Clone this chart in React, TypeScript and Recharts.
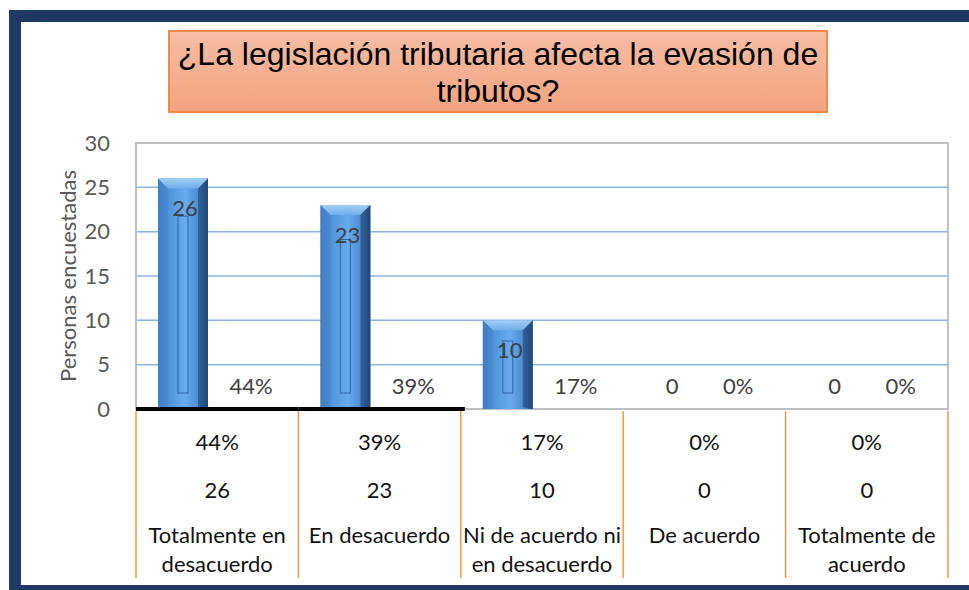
import React from "react";
import {
  BarChart,
  Bar,
  XAxis,
  YAxis,
  CartesianGrid,
  LabelList,
  ReferenceArea,
} from "recharts";

const categorias = [
  "Totalmente en desacuerdo",
  "En desacuerdo",
  "Ni de acuerdo ni en desacuerdo",
  "De acuerdo",
  "Totalmente de acuerdo",
];
const personas = [26, 23, 10, 0, 0];
const porcentajes = [0.44, 0.39, 0.17, 0, 0];
const ticksY = [0, 5, 10, 15, 20, 25, 30];

const titulo = ["¿La legislación tributaria afecta la evasión de", "tributos?"];
const tituloEjeY = "Personas encuestadas";

const datos = categorias.map((c, i) => ({
  categoria: c,
  personas: personas[i],
  porcentaje: porcentajes[i],
}));

const W = 969;
const H = 590;
const margen = { top: 143, right: 21, bottom: 11, left: 86 };
const anchoEjeY = 50;
const altoEjeX = 170;
const anchoPlot = W - margen.left - anchoEjeY - margen.right;
const banda = anchoPlot / categorias.length;
const anchoBarra = 50;
const huecoBarras = 18;

const fuente = "Lato, 'Open Sans', sans-serif";
const tam = 22;

function partir(texto: string, max = 16) {
  const palabras = texto.split(" ");
  const lineas: string[] = [];
  let actual = "";
  palabras.forEach((p) => {
    const prueba = actual ? actual + " " + p : p;
    if (prueba.length > max && actual) {
      lineas.push(actual);
      actual = p;
    } else {
      actual = prueba;
    }
  });
  if (actual) lineas.push(actual);
  return lineas;
}

function BarraBisel(props: any) {
  const { x, y, width, height } = props;
  if (!height || height <= 0) return null;
  const b = Math.min(10, height / 3);
  const inY = y + b + height * 0.12;
  const inH = Math.max(0, y + height - 16 - inY);
  return (
    <g>
      <rect x={x} y={y} width={width} height={height} fill="url(#gradBarra)" />
      <polygon
        points={`${x},${y} ${x + width},${y} ${x + width - b},${y + b} ${x + b},${y + b}`}
        fill="url(#gradTapa)"
      />
      <polygon
        points={`${x},${y} ${x + b},${y + b} ${x + b},${y + height - 2} ${x},${y + height}`}
        fill="#4784c8"
        opacity={0.5}
      />
      <polygon
        points={`${x + width},${y} ${x + width - b},${y + b} ${x + width - b},${y + height - 2} ${x + width},${y + height}`}
        fill="#1b3f6b"
        opacity={0.55}
      />
      {inH > 0 && (
        <rect
          x={x + width / 2 - 5}
          y={inY}
          width={10}
          height={inH}
          fill="none"
          stroke="#2f67a6"
          strokeWidth={1}
        />
      )}
    </g>
  );
}

function EtiquetaPersonas(props: any) {
  const { x, y, width, height, value } = props;
  const base = y + height;
  const ty = value > 0 ? y + 29 : base - 24;
  return (
    <text
      x={x + width / 2 + 2}
      y={ty}
      textAnchor="middle"
      dominantBaseline="central"
      fontFamily={fuente}
      fontSize={tam}
      fill="#404040"
    >
      {value}
    </text>
  );
}

// etiqueta del porcentaje, junto a la barra de personas
function EtiquetaPorcentaje(props: any) {
  const { x, y, width, height, value } = props;
  return (
    <text
      x={x + width + huecoBarras + anchoBarra / 2}
      y={y + height - 24}
      textAnchor="middle"
      dominantBaseline="central"
      fontFamily={fuente}
      fontSize={tam}
      fill="#404040"
    >
      {Math.round(value * 100)}%
    </text>
  );
}

function TickTabla(props: any) {
  const { x, y, payload } = props;
  const i = payload.index;
  const lineas = partir(categorias[i]);
  const izq = x - banda / 2;
  const der = x + banda / 2;
  const estilo = {
    textAnchor: "middle" as const,
    dominantBaseline: "central" as const,
    fontFamily: fuente,
    fontSize: tam,
    fill: "#111",
  };
  return (
    <g>
      <line x1={izq} x2={izq} y1={y + 2} y2={y + 169} stroke="#f79646" strokeWidth={1.5} />
      {i === categorias.length - 1 && (
        <line x1={der} x2={der} y1={y + 2} y2={y + 169} stroke="#f79646" strokeWidth={1.5} />
      )}
      {i < 2 && (
        <line x1={izq} x2={i === 1 ? der + 4 : der} y1={y} y2={y} stroke="#000" strokeWidth={4} />
      )}
      <text x={x} y={y + 32} {...estilo}>
        {Math.round(porcentajes[i] * 100)}%
      </text>
      <text x={x} y={y + 80} {...estilo}>
        {personas[i]}
      </text>
      {lineas.map((l, k) => (
        <text key={k} x={x} y={y + 125 + k * 29} {...estilo}>
          {l}
        </text>
      ))}
    </g>
  );
}

function TituloEjeY(props: any) {
  const { viewBox } = props;
  const cx = viewBox.x - 19;
  const cy = viewBox.y + viewBox.height / 2;
  return (
    <text
      x={cx}
      y={cy}
      transform={`rotate(-90, ${cx}, ${cy})`}
      textAnchor="middle"
      dominantBaseline="central"
      fontFamily={fuente}
      fontSize={tam}
      fill="#595959"
    >
      {tituloEjeY}
    </text>
  );
}

export default function App() {
  return (
    <div
      style={{
        position: "absolute",
        left: 0,
        top: 0,
        width: W,
        height: H,
        background: "#fff",
        overflow: "hidden",
      }}
    >
      <div
        style={{
          position: "absolute",
          left: 9,
          top: 10,
          width: W - 9,
          height: H - 10,
          boxSizing: "border-box",
          borderTop: "12px solid #1f3864",
          borderLeft: "12px solid #1f3864",
          borderBottom: "5px solid #1f3864",
        }}
      />

      <div style={{ position: "absolute", left: 0, top: 0 }}>
        <BarChart
          width={W}
          height={H}
          data={datos}
          margin={margen}
          barSize={anchoBarra}
          barGap={huecoBarras}
        >
          <defs>
            <linearGradient id="gradBarra" x1="0" y1="0" x2="1" y2="0">
              <stop offset="0" stopColor="#3a7bc2" />
              <stop offset="0.25" stopColor="#5296dc" />
              <stop offset="0.55" stopColor="#68abee" />
              <stop offset="0.8" stopColor="#4d8cd0" />
              <stop offset="1" stopColor="#24538e" />
            </linearGradient>
            <linearGradient id="gradTapa" x1="0" y1="0" x2="0" y2="1">
              <stop offset="0" stopColor="#a3cff5" />
              <stop offset="1" stopColor="#6eaeea" />
            </linearGradient>
          </defs>

          <CartesianGrid
            vertical={false}
            horizontalValues={[5, 10, 15, 20, 25]}
            stroke="#8db4e2"
            strokeWidth={1.5}
          />
          <ReferenceArea
            y1={0}
            y2={30}
            fill="none"
            stroke="#bfbfbf"
            strokeWidth={2}
            fillOpacity={0}
          />

          <XAxis
            dataKey="categoria"
            height={altoEjeX}
            axisLine={false}
            tickLine={false}
            tickSize={0}
            tickMargin={0}
            interval={0}
            tick={<TickTabla />}
          />
          <YAxis
            width={anchoEjeY}
            domain={[0, 30]}
            ticks={ticksY}
            axisLine={false}
            tickLine={false}
            tickSize={0}
            tickMargin={26}
            tick={{ fill: "#595959", fontSize: tam, fontFamily: fuente }}
            label={{ content: <TituloEjeY /> }}
          />

          <Bar dataKey="personas" shape={<BarraBisel />} isAnimationActive={false}>
            <LabelList dataKey="personas" content={<EtiquetaPersonas />} />
            <LabelList dataKey="porcentaje" content={<EtiquetaPorcentaje />} />
          </Bar>
          <Bar dataKey="porcentaje" fill="transparent" isAnimationActive={false} />
        </BarChart>
      </div>

      <div
        style={{
          position: "absolute",
          left: 168,
          top: 30,
          width: 660,
          height: 83,
          boxSizing: "border-box",
          border: "2px solid #f08a4b",
          background: "linear-gradient(#f5bda5, #f4a37e)",
          display: "flex",
          flexDirection: "column",
          justifyContent: "center",
          alignItems: "center",
          paddingTop: 3,
          fontFamily: "'Liberation Sans', Arial, sans-serif",
          fontSize: 32,
          lineHeight: "37px",
          color: "#000",
        }}
      >
        {titulo.map((t) => (
          <div key={t}>{t}</div>
        ))}
      </div>
    </div>
  );
}
